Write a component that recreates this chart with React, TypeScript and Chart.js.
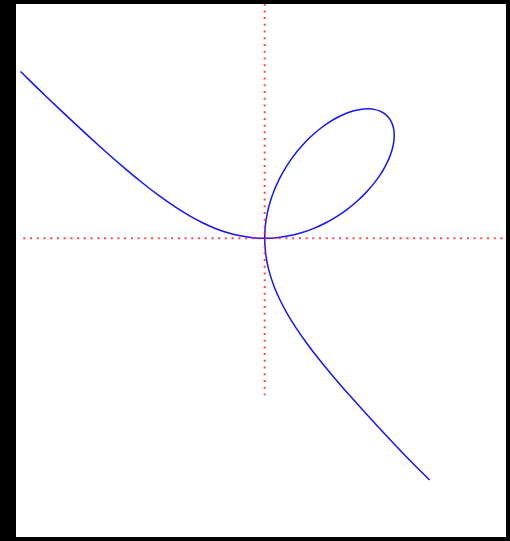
import React, { useEffect, useRef } from "react";
import { Chart, registerables } from "chart.js";

Chart.register(...registerables);

// Folium-shaped curve, points (data units, a = 1)
const curveX = [
  -2.993, -2.68826, -2.29592, -1.97931, -1.71429, -1.48535, -1.28205, -1.09704, -0.92497, -0.7619, -0.60484, -0.45152, -0.3003, -0.15002, 0,
  0.14998, 0.2997, 0.44849, 0.59524, 0.73846, 0.87634, 1.00683, 1.12782, 1.23726, 1.33333, 1.41464, 1.48026, 1.52986, 1.56366, 1.58242, 1.5873, 1.5798, 1.5616, 1.53442, 1.5,
  1.4577, 1.40544, 1.34283, 1.26984, 1.18681, 1.09456, 0.99441, 0.88816, 0.77805, 0.66667, 0.55677, 0.45113, 0.35239, 0.2629, 0.18462, 0.11905, 0.06727, 0.02997, 0.0075, 0,
  0.0075, 0.03003, 0.06773, 0.12097, 0.19048, 0.27749, 0.38396, 0.51282, 0.66841, 0.85714, 1.08862, 1.37755, 1.74737, 2.02,
];
const curveY = [
  2.044, 1.74737, 1.37755, 1.08862, 0.85714, 0.66841, 0.51282, 0.38396, 0.27749, 0.19048, 0.12097, 0.06773, 0.03003, 0.0075, 0,
  0.0075, 0.02997, 0.06727, 0.11905, 0.18462, 0.2629, 0.35239, 0.45113, 0.55677, 0.66667, 0.77805, 0.88816, 0.99441, 1.09456, 1.18681, 1.26984, 1.34283, 1.40544, 1.4577, 1.5,
  1.53442, 1.5616, 1.5798, 1.5873, 1.58242, 1.56366, 1.52986, 1.48026, 1.41464, 1.33333, 1.23726, 1.12782, 1.00683, 0.87634, 0.73846, 0.59524, 0.44849, 0.2997, 0.14998, 0,
  -0.15002, -0.3003, -0.45152, -0.60484, -0.7619, -0.92497, -1.09704, -1.28205, -1.48535, -1.71429, -1.97931, -2.29592, -2.68826, -2.962,
];

// Dotted axis lines (start / end)
const hAxisX = [-2.958, 2.917];
const hAxisY = [0, 0];
const vAxisX = [0, 0];
const vAxisY = [2.875, -1.924];

const xRange = [-3.048, 2.957];
const yRange = [-3.66, 2.871];

export default function App() {
  const ref = useRef<HTMLCanvasElement | null>(null);

  useEffect(() => {
    document.body.style.margin = "0";
    if (!ref.current) return;
    const toPts = (xs: number[], ys: number[]) => xs.map((x, i) => ({ x, y: ys[i] }));
    const chart = new Chart(ref.current, {
      type: "scatter",
      data: {
        datasets: [
          {
            data: toPts(hAxisX, hAxisY),
            showLine: true,
            borderColor: "rgba(255,40,40,0.85)",
            borderWidth: 2,
            borderDash: [2, 4.72],
            pointRadius: 0,
            fill: false,
          },
          {
            data: toPts(vAxisX, vAxisY),
            showLine: true,
            borderColor: "rgba(255,40,40,0.85)",
            borderWidth: 2,
            borderDash: [2, 4.72],
            pointRadius: 0,
            fill: false,
          },
          {
            data: toPts(curveX, curveY),
            showLine: true,
            borderColor: "rgb(20,20,255)",
            borderWidth: 1.5,
            tension: 0.3,
            pointRadius: 0,
            fill: false,
          },
        ],
      },
      options: {
        animation: false,
        responsive: false,
        maintainAspectRatio: false,
        layout: { padding: 0 },
        plugins: { legend: { display: false }, tooltip: { enabled: false } },
        scales: {
          x: { type: "linear", display: false, min: xRange[0], max: xRange[1] },
          y: { type: "linear", display: false, min: yRange[0], max: yRange[1] },
        },
      },
    });
    return () => chart.destroy();
  }, []);

  return (
    <div style={{ position: "relative", width: 510, height: 541, background: "#000" }}>
      <div style={{ position: "absolute", left: 16, top: 4, width: 490, height: 533, background: "#fff" }}>
        <canvas ref={ref} width={490} height={533} style={{ display: "block" }} />
      </div>
    </div>
  );
}
